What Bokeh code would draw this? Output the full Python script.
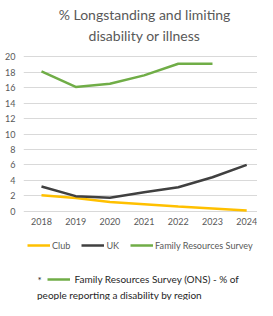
from bokeh.plotting import figure
from bokeh.models import Range1d, Label, Legend, LegendItem, FixedTicker
from bokeh.layouts import column
from bokeh.embed import file_html
from bokeh.resources import INLINE

years = [2018, 2019, 2020, 2021, 2022, 2023, 2024]
club = [2.05, 1.7, 1.2, 0.9, 0.6, 0.35, 0.1]
uk = [3.2, 1.95, 1.75, 2.45, 3.1, 4.4, 6.0]
frs_years = [2018, 2019, 2020, 2021, 2022, 2023]
frs = [18.1, 16.1, 16.5, 17.6, 19.1, 19.1]
y_ticks = [0, 2, 4, 6, 8, 10, 12, 14, 16, 18, 20]

title_lines = ["% Longstanding and limiting", "disability or illness"]
series_names = ["Club", "UK", "Family Resources Survey"]
note_star = "*"
note_line1 = "Family Resources Survey (ONS) - % of"
note_line2 = "people reporting a disability by region"

FONT = "Lato"
GREY = "#595959"
DARK = "#262626"
C_CLUB = "#FFC000"
C_UK = "#404040"
C_FRS = "#70AD47"
LW = 2.5

W = 257
FL = 23                      # shared frame left edge (column aligns frames)
HT, HC, HL, HN = 48, 183, 26, 43


def strip(h):
    """A figure with no axes; data x equals pixel x, data y is px from bottom."""
    f = figure(width=W, height=h, output_backend="svg", toolbar_location=None,
               x_range=Range1d(FL, W), y_range=Range1d(0, h),
               x_axis_location=None, y_axis_location=None,
               min_border_left=FL, min_border_right=0,
               min_border_top=0, min_border_bottom=0)
    f.grid.visible = False
    f.outline_line_color = None
    return f


# --- title strip
pT = strip(HT)
for t, yy in zip(title_lines, (HT - 14, HT - 34.5)):
    pT.add_layout(Label(x=144, y=yy, text=t, text_font=FONT,
                        text_font_size="14px", text_color=GREY,
                        text_baseline="middle", text_align="center"))

# --- chart
p = figure(width=W, height=HC, output_backend="svg", toolbar_location=None,
           x_range=Range1d(2017.474, 2024.316), y_range=Range1d(-0.3, 20.3),
           min_border_left=FL, min_border_right=0, min_border_top=6,
           min_border_bottom=18)
p.outline_line_color = None
p.line(years, club, line_color=C_CLUB, line_width=LW)
p.line(years, uk, line_color=C_UK, line_width=LW)
p.line(frs_years, frs, line_color=C_FRS, line_width=LW)

p.xaxis.ticker = FixedTicker(ticks=years)
p.yaxis.ticker = FixedTicker(ticks=y_ticks)
for ax in (p.xaxis, p.yaxis):
    ax.axis_line_color = None
    ax.major_tick_line_color = None
    ax.minor_tick_line_color = None
    ax.major_tick_out = 0
    ax.major_tick_in = 0
    ax.minor_tick_out = 0
    ax.major_label_text_font = FONT
    ax.major_label_text_font_size = "9px"
    ax.major_label_text_color = GREY
p.xaxis.major_label_standoff = 4
p.yaxis.major_label_standoff = 8
p.xgrid.grid_line_color = None
p.ygrid.grid_line_color = "#d9d9d9"
p.ygrid.grid_line_width = 1

# --- legend strip (series drawn off-range, only their legend swatches show)
pL = strip(HL)
rl_club = pL.line(years, club, line_color=C_CLUB, line_width=LW)
rl_uk = pL.line(years, uk, line_color=C_UK, line_width=LW)
rl_frs = pL.line(frs_years, frs, line_color=C_FRS, line_width=LW)
legend = Legend(items=[LegendItem(label=series_names[0], renderers=[rl_club]),
                       LegendItem(label=series_names[1], renderers=[rl_uk]),
                       LegendItem(label=series_names[2], renderers=[rl_frs])],
                orientation="horizontal", location=(27 - FL, 6),
                padding=0, margin=0, spacing=11, label_standoff=2,
                label_width=0, glyph_width=23, glyph_height=12,
                label_height=12,
                label_text_font=FONT, label_text_font_size="9.1px",
                label_text_color=GREY, background_fill_alpha=0,
                border_line_color=None)
pL.add_layout(legend)

# --- footnote strip
pN = strip(HN)
rn_frs = pN.line(frs_years, frs, line_color=C_FRS, line_width=LW)
note_legend = Legend(items=[LegendItem(label=note_line1, renderers=[rn_frs])],
                     orientation="horizontal", location=(46.5 - FL, 14),
                     padding=0, margin=0, label_standoff=5, label_width=0,
                     glyph_width=23, glyph_height=14, label_height=14,
                     label_text_font=FONT, label_text_font_size="10px",
                     label_text_color=DARK, background_fill_alpha=0,
                     border_line_color=None)
pN.add_layout(note_legend)
pN.add_layout(Label(x=37, y=21, text=note_star, text_font=FONT,
                    text_font_size="10px", text_color=DARK,
                    text_baseline="middle", text_align="left"))
pN.add_layout(Label(x=36.5, y=6, text=note_line2, text_font=FONT,
                    text_font_size="10px", text_color=DARK,
                    text_baseline="middle", text_align="left"))

layout = column(pT, p, pL, pN, spacing=0)
open("out.html", "w").write(file_html(layout, INLINE))
